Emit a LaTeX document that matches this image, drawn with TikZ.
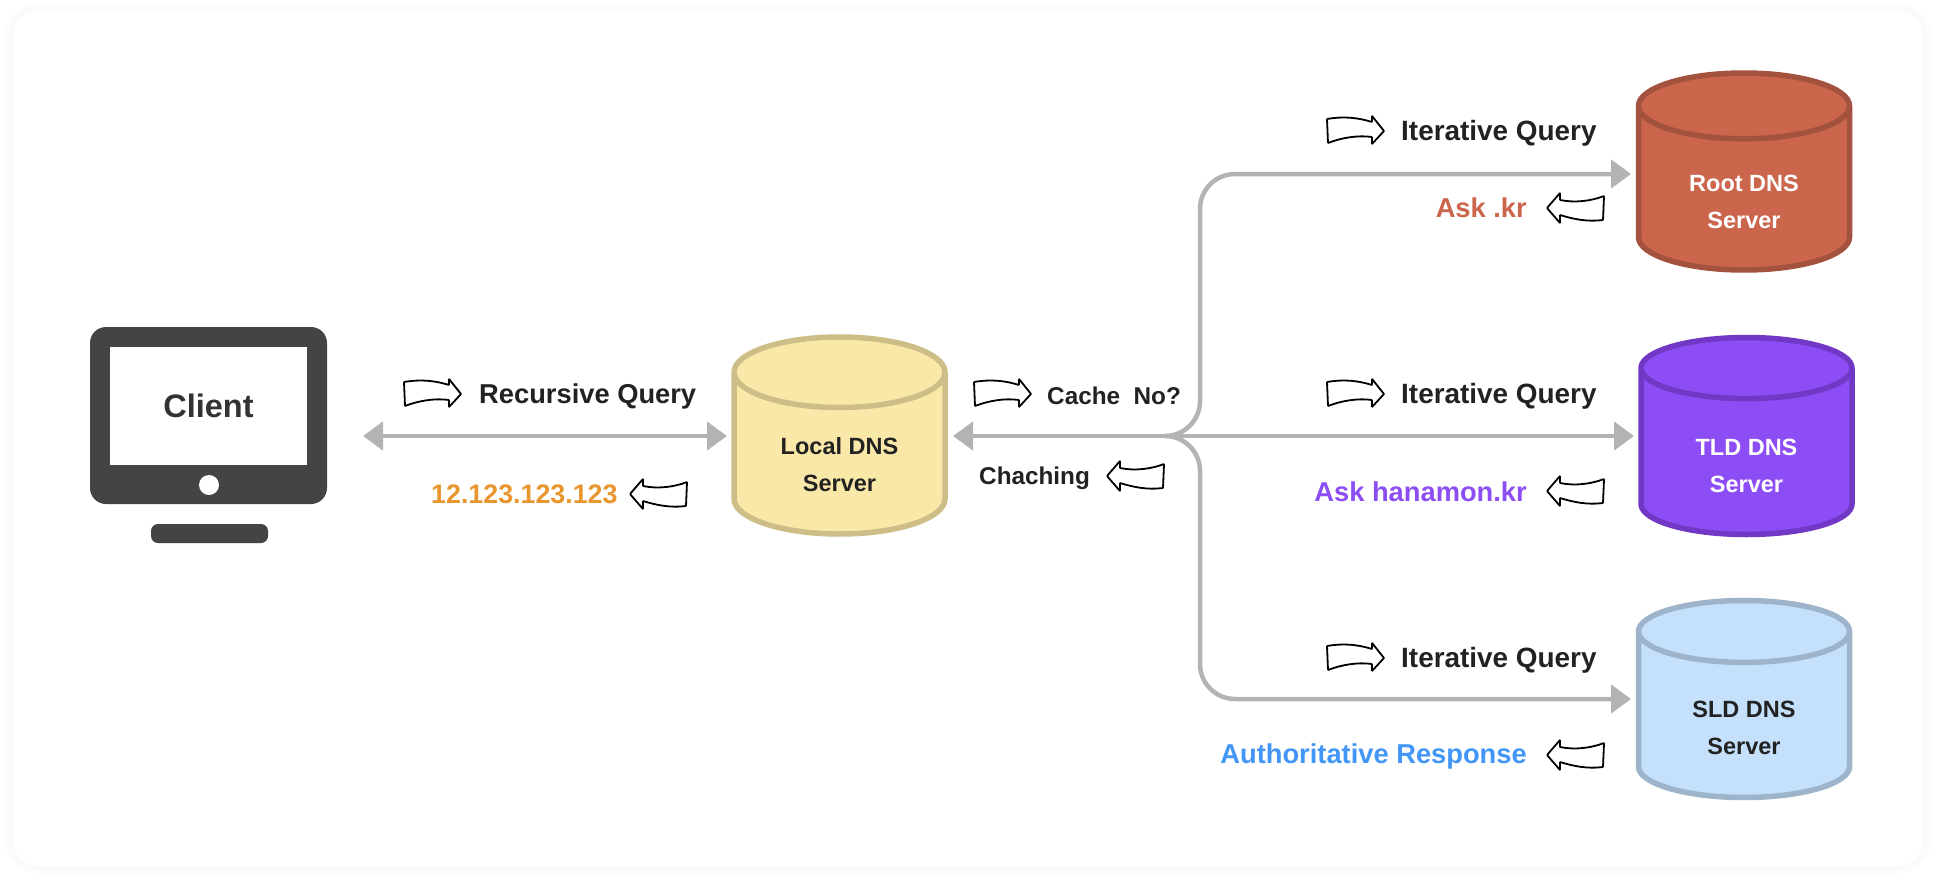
\documentclass[tikz,border=0pt]{standalone}
\usepackage{fontspec}
\setmainfont{Liberation Sans}
\usetikzlibrary{arrows.meta, positioning, shapes.geometric}
\definecolor{linkgray}{HTML}{B3B3B3}
\definecolor{inkdark}{HTML}{222222}
\definecolor{monitordark}{HTML}{444444}
\definecolor{localfill}{HTML}{FAE8A9}
\definecolor{localedge}{HTML}{CDBD87}
\definecolor{rootfill}{HTML}{CB664C}
\definecolor{rootedge}{HTML}{A3523E}
\definecolor{tldfill}{HTML}{8C4DF5}
\definecolor{tldedge}{HTML}{7038C4}
\definecolor{sldfill}{HTML}{C4E0FB}
\definecolor{sldedge}{HTML}{9DB4CB}
\definecolor{orangetext}{HTML}{E9962F}
\definecolor{bluetext}{HTML}{4296F7}
\newcommand{\droptext}[1]{\rule{0pt}{#1pt}}
\tikzstyle{dbserver}=[cylinder, shape border rotate=90, anchor=shape center, shape aspect=0.6, minimum height=197pt, minimum width=211pt, line width=5.5pt, inner sep=0pt, align=center, font=\bfseries\fontsize{23.5}{37}\selectfont]
\tikzstyle{link}=[draw=linkgray, line width=4.5pt, >={Triangle[length=20pt,width=28pt]}]
\tikzstyle{label}=[inner sep=0pt, text=inkdark, font=\bfseries\fontsize{27.3}{33}\selectfont]
\tikzstyle{iterlabel}=[inner sep=0pt, text=inkdark, font=\bfseries\fontsize{27.9}{33}\selectfont]
\tikzstyle{smalllabel}=[inner sep=0pt, text=inkdark, font=\bfseries\fontsize{24.3}{30}\selectfont]
\tikzset{
  sketchright/.pic={\draw[line width=1.8pt, fill=white, rounded corners=0.6pt] (0,-11) .. controls (18,-14) and (32,-12) .. (45,-8) -- (45,-14) -- (57,1) -- (45,14) -- (45,7) .. controls (30,5) and (14,8) .. (1,13) -- cycle;},
  sketchleft/.pic={\draw[line width=1.8pt, fill=white, rounded corners=0.6pt] (0,0) -- (13,-15) -- (13,-8) .. controls (28,-5) and (44,-7) .. (57,-12) -- (56,12) .. controls (40,14) and (26,11) .. (13,7) -- (13,15) -- cycle;}
}
\begin{document}
\begin{tikzpicture}[x=1pt, y=-1pt]
  \useasboundingbox (0,0) rectangle (1936,878);
  % card
  \fill[black!1, rounded corners=36pt] (4,3) rectangle (1932,874);
  \fill[black!2, rounded corners=30pt] (9,7) rectangle (1927,870);
  \fill[white, rounded corners=25pt] (13,11) rectangle (1923,866);
  % client
  \node[fill=monitordark, rounded corners=16pt, minimum width=237pt, minimum height=177pt, inner sep=0pt] (monitor) at (208.5,415.5) {};
  \node[fill=white, minimum width=197pt, minimum height=118pt, inner sep=0pt, font=\bfseries\fontsize{32.5}{38}\selectfont, text=black!80] (client) at (208.5,406) {Client};
  \node[fill=white, circle, minimum size=20pt, inner sep=0pt] (button) at (209,485) {};
  \node[fill=monitordark, rounded corners=7pt, minimum width=117pt, minimum height=19pt, inner sep=0pt] (stand) at (209.5,533.5) {};
  % servers
  \node[dbserver, fill=localfill, draw=localedge, text=inkdark] (local) at (839.5,435.5) {\droptext{38}Local DNS\\Server};
  \node[dbserver, fill=rootfill, draw=rootedge, text=white] (root) at (1744,171.5) {\droptext{42}Root DNS\\Server};
  \node[dbserver, fill=tldfill, draw=tldedge, text=white] (tld) at (1746.5,436) {\droptext{42}TLD DNS\\Server};
  \node[dbserver, fill=sldfill, draw=sldedge, text=inkdark] (sld) at (1744,699) {\droptext{40}SLD DNS\\Server};
  % links
  \coordinate (clientend) at (363,436);
  \coordinate (hub) at (1165,436);
  \coordinate (bend) at (1200,436);
  \coordinate (rootend) at (1631,174);
  \coordinate (tldend) at (1634,436);
  \coordinate (sldend) at (1631,699);
  \coordinate (localleft) at (727,436);
  \coordinate (localright) at (953,436);
  \draw[link, <->] (clientend) -- (localleft);
  \draw[link, <->] (localright) -- (tldend);
  \draw[link, ->, rounded corners=35pt] (hub) -- (bend) -- (bend |- rootend) -- (rootend);
  \draw[link, ->, rounded corners=35pt] (hub) -- (bend) -- (bend |- sldend) -- (sldend);
  % labels
  \node[label, anchor=west] (recursive) at (479,396) {Recursive Query};
  \node[label, anchor=west, text=orangetext, font=\bfseries\fontsize{26.8}{33}\selectfont] (answer) at (431,494) {12.123.123.123};
  \node[smalllabel, anchor=west] (cache) at (1047,396) {Cache\ \ No?};
  \node[smalllabel, anchor=west] (caching) at (979,478) {Chaching};
  \node[iterlabel, anchor=west] (iterroot) at (1401,133) {Iterative Query};
  \node[label, anchor=east, text=rootfill] (askroot) at (1527,208) {Ask .kr};
  \node[iterlabel, anchor=west] (itertld) at (1401,396) {Iterative Query};
  \node[label, anchor=east, text=tldfill] (asktld) at (1527,492) {Ask hanamon.kr};
  \node[iterlabel, anchor=west] (itersld) at (1401,660) {Iterative Query};
  \node[label, anchor=east, text=bluetext] (authsld) at (1527,756) {Authoritative Response};
  % sketch arrows
  \pic at (404,393) {sketchright};
  \pic at (630,494) {sketchleft};
  \pic at (974,393) {sketchright};
  \pic at (1107,476) {sketchleft};
  \pic at (1327,130) {sketchright};
  \pic at (1547,208) {sketchleft};
  \pic at (1327,393) {sketchright};
  \pic at (1547,491) {sketchleft};
  \pic at (1327,657) {sketchright};
  \pic at (1547,755) {sketchleft};
\end{tikzpicture}
\end{document}
